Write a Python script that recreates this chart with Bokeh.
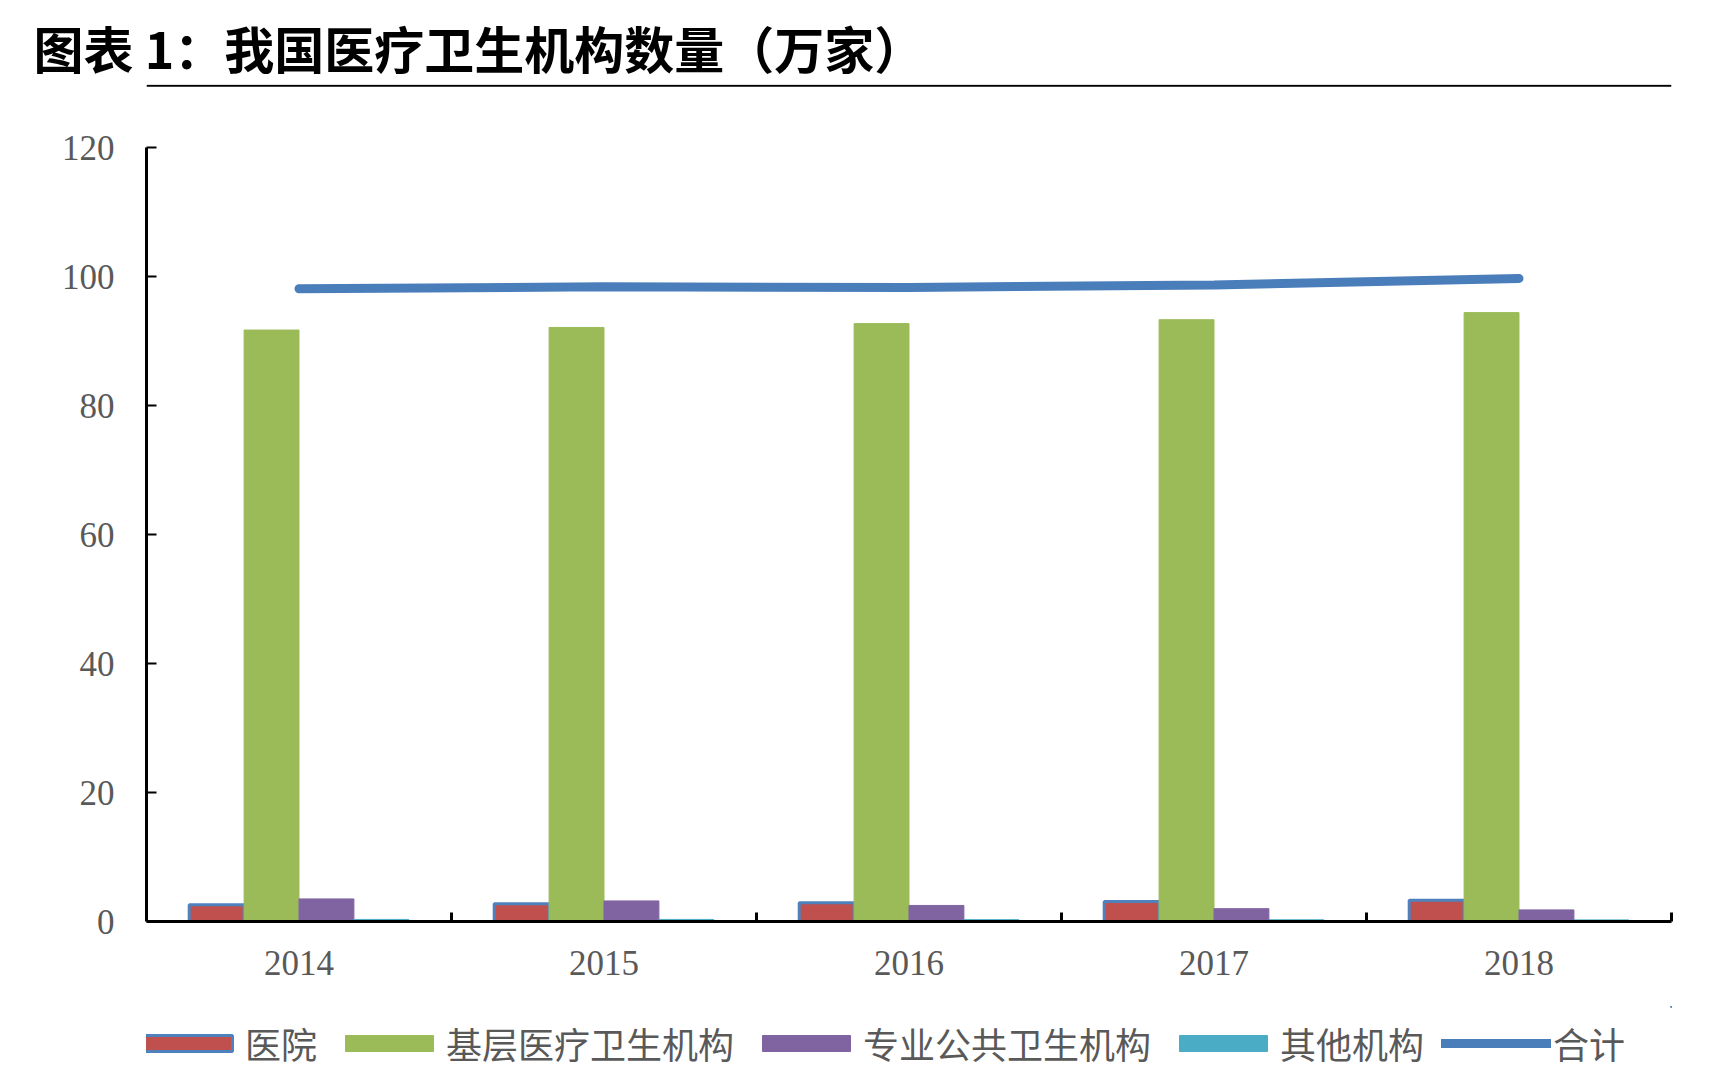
import numpy as np
from bokeh.plotting import figure
from bokeh.models import (Range1d, FixedTicker, Legend, LegendItem, Span,
                          ColumnDataSource)
from bokeh.transform import dodge
from bokeh.layouts import column
from bokeh.embed import file_html
from bokeh.resources import INLINE

# ---- data (万家) ----
years = ["2014", "2015", "2016", "2017", "2018"]
hospital = [2.59, 2.76, 2.91, 3.11, 3.30]
primary = [91.7, 92.1, 92.7, 93.3, 94.4]
public_health = [3.50, 3.19, 2.49, 1.99, 1.80]
other = [0.32, 0.32, 0.29, 0.27, 0.25]
total = [98.1, 98.4, 98.3, 98.7, 99.7]
y_ticks = [0, 20, 40, 60, 80, 100, 120]

title_text = "图表 1：我国医疗卫生机构数量（万家）"
series_names = ["医院", "基层医疗卫生机构", "专业公共卫生机构", "其他机构", "合计"]

RED = "#C0504D"
GREEN = "#9BBB59"
PURPLE = "#8064A2"
CYAN = "#4BACC6"
BLUE = "#4A7EBB"
OUTLINE = "#4F81BD"
GRAY = "#595959"

W = 1720
H_MAIN = 1006
H_LEG = 80
B_LEFT = 146
B_RIGHT = W - 1671
# frame of the main chart (canvas px): rule line at top, y=0 at bottom
F_TOP, F_BOT = 84, 921
Y_120_PX = 147                       # canvas px of the value 120
px_per_unit = (F_BOT - Y_120_PX) / 120.0
y_top = (F_BOT - F_TOP) / px_per_unit  # range end so that the frame top is the rule

n = len(years)
centers = np.arange(1, n + 1)
src = ColumnDataSource(dict(x=centers, hospital=hospital, primary=primary,
                            public_health=public_health, other=other, total=total))

p = figure(width=W, height=H_MAIN, x_range=Range1d(0.5, n + 0.5), y_range=Range1d(0, y_top),
           output_backend="svg", toolbar_location=None,
           min_border_left=B_LEFT, min_border_right=B_RIGHT,
           min_border_top=F_TOP, min_border_bottom=H_MAIN - F_BOT)
p.grid.visible = False
p.outline_line_color = None

# title (above the frame)
p.title.text = title_text
p.title.align = "left"
p.title.offset = 33 - B_LEFT
p.title.standoff = 4
p.title.text_font = "Noto Sans CJK SC"
p.title.text_font_style = "bold"
p.title.text_font_size = "50px"
p.title.text_color = "black"

# rule under the title, at the top edge of the frame
p.add_layout(Span(location=y_top - 1.2 / px_per_unit, dimension="width",
                  line_color="black", line_width=2))

bw = 0.18
r1 = p.vbar(x=dodge("x", -0.27), top="hospital", width=bw, source=src,
            fill_color=RED, line_color=OUTLINE, line_width=3)
r2 = p.vbar(x=dodge("x", -0.09), top="primary", width=bw, source=src,
            fill_color=GREEN, line_color=GREEN, line_width=1)
r3 = p.vbar(x=dodge("x", 0.09), top="public_health", width=bw, source=src,
            fill_color=PURPLE, line_color=PURPLE, line_width=1)
r4 = p.vbar(x=dodge("x", 0.27), top="other", width=bw, source=src,
            fill_color=CYAN, line_color=CYAN, line_width=1)
r5 = p.line(x="x", y="total", source=src, line_color=BLUE, line_width=9, line_cap="round")

# y axis
ya = p.yaxis[0]
ya.ticker = FixedTicker(ticks=y_ticks)
ya.bounds = (0, 120)
ya.axis_line_color = "black"
ya.axis_line_width = 3
ya.major_tick_in = 10
ya.major_tick_out = 0
ya.major_tick_line_width = 2
ya.major_tick_line_color = "black"
ya.minor_tick_line_color = None
ya.major_label_standoff = 32
ya.major_label_text_font = "Liberation Serif"
ya.major_label_text_font_size = "35px"
ya.major_label_text_color = GRAY

# x axis
xa = p.xaxis[0]
xa.ticker = FixedTicker(ticks=list(centers), minor_ticks=list(centers + 0.5))
xa.major_label_overrides = {int(c): y for c, y in zip(centers, years)}
xa.axis_line_color = "black"
xa.axis_line_width = 3
xa.major_tick_in = 0
xa.major_tick_out = 0
xa.minor_tick_in = 9
xa.minor_tick_out = 0
xa.minor_tick_line_width = 3
xa.minor_tick_line_color = "black"
xa.major_label_standoff = 29
xa.major_label_text_font = "Liberation Serif"
xa.major_label_text_font_size = "35px"
xa.major_label_text_color = GRAY

# ---- legend strip: same series and styles, data kept far out of view ----
lf = figure(width=W, height=H_LEG, x_range=Range1d(-1000, -999), y_range=Range1d(-1000, -999),
            output_backend="svg", toolbar_location=None,
            x_axis_location=None, y_axis_location=None,
            min_border_left=0, min_border_right=0, min_border_top=0, min_border_bottom=0)
lf.grid.visible = False
lf.outline_line_color = None
l1 = lf.vbar(x="x", top="hospital", width=bw, source=src,
             fill_color=RED, line_color=OUTLINE, line_width=3)
l2 = lf.vbar(x="x", top="primary", width=bw, source=src,
             fill_color=GREEN, line_color=GREEN, line_width=1)
l3 = lf.vbar(x="x", top="public_health", width=bw, source=src,
             fill_color=PURPLE, line_color=PURPLE, line_width=1)
l4 = lf.vbar(x="x", top="other", width=bw, source=src,
             fill_color=CYAN, line_color=CYAN, line_width=1)
l5 = lf.line(x="x", y="total", source=src, line_color=BLUE, line_width=9, line_cap="round")

legend = Legend(items=[LegendItem(label=series_names[0], renderers=[l1]),
                       LegendItem(label=series_names[1], renderers=[l2]),
                       LegendItem(label=series_names[2], renderers=[l3]),
                       LegendItem(label=series_names[3], renderers=[l4]),
                       LegendItem(label=series_names[4], renderers=[l5])],
                orientation="horizontal", location=(-13, 17),
                glyph_width=110, glyph_height=20, label_standoff=2, spacing=17,
                label_text_font="Noto Sans CJK SC", label_text_font_size="36px",
                label_text_color=GRAY, border_line_color=None,
                background_fill_alpha=0, padding=6, margin=0)
lf.add_layout(legend, "center")

layout = column(p, lf, spacing=0)
open("out.html", "w").write(file_html(layout, INLINE))
